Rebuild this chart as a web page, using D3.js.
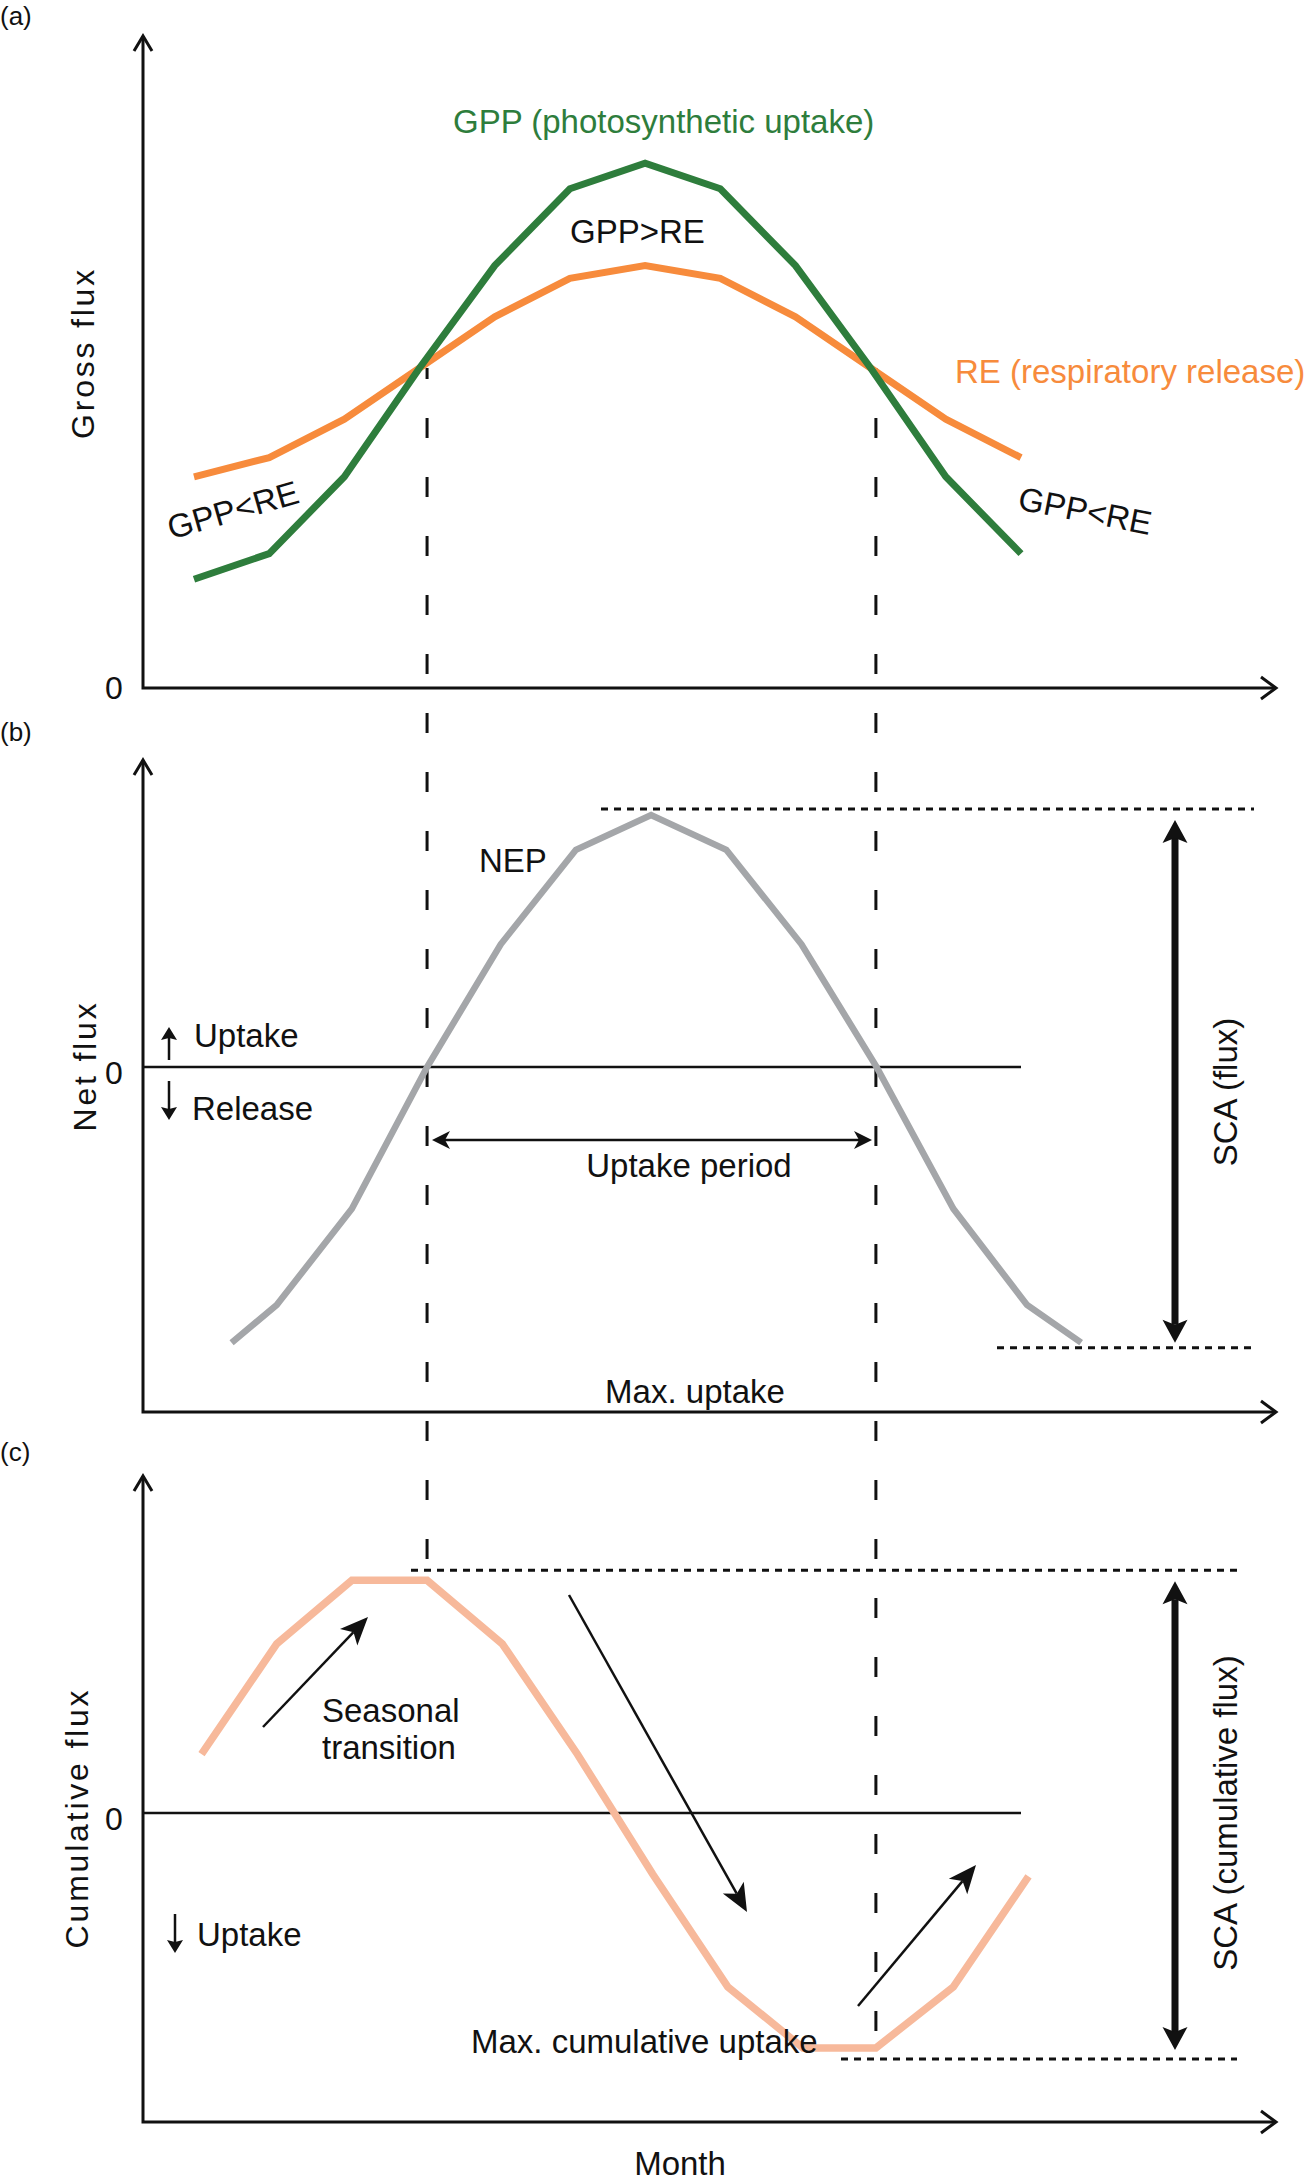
<!DOCTYPE html>
<html>
<head>
<meta charset="utf-8">
<script src="https://cdn.jsdelivr.net/npm/d3@7"></script>
<style>
  body { margin: 0; background: #fff; }
  svg text { font-family: "Liberation Sans", Arial, Helvetica, sans-serif; }
</style>
</head>
<body>
<div class="chart"></div>
<script>
// months (x positions) and series values
var months = [1, 2, 3, 4, 5, 6, 7, 8, 9, 10, 11, 12];
var gpp = [17, 21, 33, 50, 66, 78, 82, 78, 66, 50, 33, 21];
var re  = [33, 36, 42, 50, 58, 64, 66, 64, 58, 50, 42, 36];

var nepMonths = [1.5, 2.1, 3.1, 4.1, 5.08, 6.08, 7.08, 8.08, 9.08, 10.08, 11.1, 12.08, 12.8];
var nep = [-17.5, -15.1, -9, 0, 7.8, 13.8, 16, 13.8, 7.8, 0, -9, -15.1, -17.5];

var cumMonths = [1.1, 2.1, 3.1, 4.1, 5.1, 6.1, 7.1, 8.1, 9.1, 10.07, 11.1, 12.1];
var cum = [25, 72, 99, 99, 72, 25, -26, -74, -100, -100, -74, -27];

var crossMonths = [4.1, 10.07];   // GPP = RE, start / end of uptake period

var W = 1306, H = 2182;
var GREEN = "#2e7d3c", ORANGE = "#f78b3c", GREY = "#a4a6a9", PEACH = "#f7b99b";

var svg = d3.select(".chart").append("svg")
    .attr("width", W).attr("height", H);
svg.append("rect").attr("width", W).attr("height", H).attr("fill", "#fff");

var x = d3.scaleLinear().domain([1, 12]).range([194, 1021]);
var yA = d3.scaleLinear().domain([0, 100]).range([688, 48]);
var yB = d3.scaleLinear().domain([-21.9, 19.5]).range([1412, 760]);
var yC = d3.scaleLinear().domain([-131.5, 143.4]).range([2122, 1476]);

var X0 = 143, XEND = 1276;

function text(s, px, py, opts){
  opts = opts || {};
  var t = svg.append("text")
      .attr("x", px).attr("y", py)
      .attr("font-size", opts.size || 33)
      .attr("fill", opts.color || "#111")
      .attr("text-anchor", opts.anchor || "start")
      .text(s);
  if (opts.rotate != null) t.attr("transform", "rotate(" + opts.rotate + "," + px + "," + py + ")");
  if (opts.spacing) t.attr("letter-spacing", opts.spacing);
  return t;
}

// filled arrow head at (x2,y2) pointing away from (x1,y1)
function head(x1, y1, x2, y2, len, hw, notch){
  var a = Math.atan2(y2 - y1, x2 - x1), c = Math.cos(a), s = Math.sin(a);
  var pts = [[0, 0], [-len, -hw], [-len + notch, 0], [-len, hw]].map(function(p){
    return [x2 + p[0]*c - p[1]*s, y2 + p[0]*s + p[1]*c];
  });
  svg.append("path").attr("d", "M" + pts.join("L") + "Z").attr("fill", "#111");
}

function arrow(x1, y1, x2, y2, o){
  var a = Math.atan2(y2 - y1, x2 - x1), c = Math.cos(a), s = Math.sin(a);
  var back = o.len - o.notch;
  var sx = o.both ? x1 + c*back : x1, sy = o.both ? y1 + s*back : y1;
  svg.append("line")
      .attr("x1", sx).attr("y1", sy)
      .attr("x2", x2 - c*back).attr("y2", y2 - s*back)
      .attr("stroke", "#111").attr("stroke-width", o.width);
  head(x1, y1, x2, y2, o.len, o.hw, o.notch);
  if (o.both) head(x2, y2, x1, y1, o.len, o.hw, o.notch);
}

// open chevron axis arrows
function axes(y0, yTop){
  var g = svg.append("g").attr("stroke", "#111").attr("stroke-width", 3).attr("fill", "none");
  g.append("path").attr("d", "M" + X0 + "," + yTop + "V" + y0 + "H" + XEND);
  g.append("path").attr("d", "M" + (X0 - 9) + "," + (yTop + 15) + "L" + X0 + "," + yTop + "L" + (X0 + 9) + "," + (yTop + 15));
  g.append("path").attr("d", "M" + (XEND - 15) + "," + (y0 - 11) + "L" + XEND + "," + y0 + "L" + (XEND - 15) + "," + (y0 + 11));
}

function zeroLine(yy){
  svg.append("line")
      .attr("x1", X0).attr("x2", x(12))
      .attr("y1", yy).attr("y2", yy)
      .attr("stroke", "#111").attr("stroke-width", 2.5);
}

function dotted(x1, x2, yy){
  svg.append("line")
      .attr("x1", x1).attr("x2", x2).attr("y1", yy).attr("y2", yy)
      .attr("stroke", "#111").attr("stroke-width", 3)
      .attr("stroke-dasharray", "7,6");
}

function series(xs, ys, yScale, color, w){
  var pts = xs.map(function(m, i){ return [m, ys[i]]; });
  svg.append("path")
      .datum(pts)
      .attr("fill", "none")
      .attr("stroke", color)
      .attr("stroke-width", w)
      .attr("d", d3.line().x(function(d){ return x(d[0]); }).y(function(d){ return yScale(d[1]); }));
}

// ---------- panel (a)
axes(yA(0), 36);
text("(a)", 0, 25, {size: 26});
text("0", 114, 699, {anchor: "middle", size: 32});
text("Gross flux", 94, 353, {rotate: -90, anchor: "middle", size: 32, spacing: 2.8});

// ---------- panel (b)
axes(yB.range()[0], 760);
text("(b)", 0, 741, {size: 26});
text("0", 114, 1084, {anchor: "middle", size: 32});
text("Net flux", 96, 1066, {rotate: -90, anchor: "middle", size: 32, spacing: 2.8});
zeroLine(yB(0));

// ---------- panel (c)
axes(yC.range()[0], 1476);
text("(c)", 0, 1461, {size: 26});
text("0", 114, 1830, {anchor: "middle", size: 32});
text("Cumulative flux", 88, 1818, {rotate: -90, anchor: "middle", size: 32, spacing: 2.8});
zeroLine(yC(0));

// vertical dashed guides at GPP = RE
var crossY = yA(gpp[3]);
crossMonths.forEach(function(m, i){
  svg.append("line")
      .attr("x1", x(m)).attr("x2", x(m))
      .attr("y1", crossY)
      .attr("y2", i === 0 ? yC(d3.max(cum)) - 12 : yC(d3.min(cum)))
      .attr("stroke", "#111").attr("stroke-width", 3)
      .attr("stroke-dasharray", "20,39").attr("stroke-dashoffset", 9);
});

// reference dotted lines
dotted(601, 1254, yB(d3.max(nep)) - 6);
dotted(997, 1254, yB(d3.min(nep)) + 5);
dotted(411, 1241, yC(d3.max(cum)) - 10);
dotted(841, 1237, yC(d3.min(cum)) + 11);

// data lines
series(months, re, yA, ORANGE, 7);
series(months, gpp, yA, GREEN, 7);
series(nepMonths, nep, yB, GREY, 6.5);
series(cumMonths, cum, yC, PEACH, 7.5);

// labels panel (a)
text("GPP (photosynthetic uptake)", 453, 133, {color: GREEN});
text("GPP>RE", 570, 243);
text("RE (respiratory release)", 955, 383, {color: ORANGE});
text("GPP<RE", 236, 521, {rotate: -16, anchor: "middle"});
text("GPP<RE", 1083, 522, {rotate: 11, anchor: "middle"});

// labels panel (b)
text("NEP", 479, 872);
text("Uptake", 194, 1047);
text("Release", 192, 1120);
arrow(169, 1060, 169, 1027, {width: 2.5, len: 13, hw: 8, notch: 2});
arrow(169, 1081, 169, 1120, {width: 2.5, len: 13, hw: 8, notch: 2});
arrow(432, 1140, 872, 1140, {width: 2.5, len: 18, hw: 9, notch: 5, both: true});
text("Uptake period", 689, 1177, {anchor: "middle"});
text("Max. uptake", 695, 1403, {anchor: "middle"});
arrow(1175, yB(d3.max(nep)) + 5, 1175, yB(d3.min(nep)), {width: 7, len: 23, hw: 12.5, notch: 5, both: true});
text("SCA (flux)", 1237, 1092, {rotate: -90, anchor: "middle"});

// labels panel (c)
arrow(263, 1727, 368, 1617, {width: 2.5, len: 28, hw: 12, notch: 7});
text("Seasonal", 322, 1722);
text("transition", 322, 1759);
arrow(569, 1595, 747, 1912, {width: 2.5, len: 28, hw: 12, notch: 7});
arrow(858, 2006, 976, 1865, {width: 2.5, len: 28, hw: 12, notch: 7});
arrow(175, 1914, 175, 1953, {width: 2.5, len: 13, hw: 8, notch: 2});
text("Uptake", 197, 1946);
text("Max. cumulative uptake", 471, 2053);
arrow(1175, yC(d3.max(cum)) + 1, 1175, yC(d3.min(cum)) + 2, {width: 7, len: 23, hw: 12.5, notch: 5, both: true});
text("SCA (cumulative flux)", 1237, 1813, {rotate: -90, anchor: "middle"});

text("Month", 680, 2175, {anchor: "middle"});
</script>
</body>
</html>
